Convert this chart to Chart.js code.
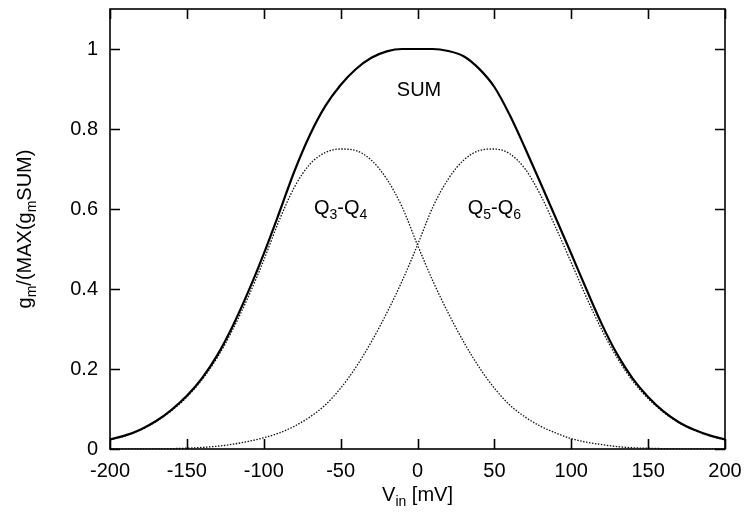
<!DOCTYPE html>
<html lang="en">
<head>
    <meta charset="UTF-8">
    <title>gm vs Vin</title>
    <script src="https://cdn.jsdelivr.net/npm/chart.js@4.4.1/dist/chart.umd.min.js"></script>
    <style>
        body { margin: 0; background: #fff; }
        canvas { display: block; }
    </style>
</head>
<body>
    <canvas id="gmChart" width="745" height="519"></canvas>

    <script>
        // input voltage, mV
        const vin = [-200, -190, -180, -170, -160, -150, -140, -130, -120, -110,
                     -100, -90, -80, -70, -60, -50, -40, -30, -20, -10,
                     0, 10, 20, 30, 40, 50, 60, 70, 80, 90,
                     100, 110, 120, 130, 140, 150, 160, 170, 180, 190, 200];

        // normalised transconductance of the combined stage
        const sumGm = [0.024, 0.034, 0.049, 0.070, 0.098, 0.133, 0.178, 0.236, 0.309, 0.394,
                       0.488, 0.590, 0.695, 0.785, 0.857, 0.910, 0.950, 0.978, 0.994, 1.000,
                       1.000, 1.000, 0.995, 0.982, 0.951, 0.905, 0.835, 0.752, 0.665, 0.577,
                       0.488, 0.398, 0.311, 0.236, 0.176, 0.130, 0.094, 0.067, 0.048, 0.034, 0.024];

        // pair Q3-Q4
        const q34Gm = [0.023, 0.033, 0.048, 0.069, 0.096, 0.130, 0.174, 0.230, 0.300, 0.381,
                       0.472, 0.571, 0.655, 0.712, 0.741, 0.750, 0.746, 0.722, 0.675, 0.605,
                       0.510, 0.420, 0.340, 0.268, 0.205, 0.152, 0.110, 0.080, 0.057, 0.040,
                       0.026, 0.017, 0.011, 0.006, 0.003, 0.002, 0.001, 0.000, 0.000, 0.000, 0.000];

        // pair Q5-Q6
        const q56Gm = [0.000, 0.000, 0.000, 0.000, 0.001, 0.002, 0.004, 0.007, 0.012, 0.019,
                       0.028, 0.040, 0.057, 0.080, 0.110, 0.152, 0.205, 0.268, 0.340, 0.420,
                       0.510, 0.605, 0.675, 0.722, 0.746, 0.750, 0.738, 0.700, 0.635, 0.553,
                       0.466, 0.378, 0.297, 0.227, 0.170, 0.126, 0.092, 0.066, 0.047, 0.033, 0.023];

        const xTicks = [-200, -150, -100, -50, 0, 50, 100, 150, 200];
        const yTicks = [0, 0.2, 0.4, 0.6, 0.8, 1];

        const FONT = "'Liberation Sans', Arial, Helvetica, sans-serif";
        const SIZE = 20;
        const SUB = 14;

        function pts(ys) {
            return vin.map((v, i) => ({ x: v, y: ys[i] }));
        }

        // text with subscripts: parts = [[text, isSub], ...]
        function richWidth(ctx, parts) {
            let w = 0;
            parts.forEach(([t, sub]) => {
                ctx.font = (sub ? SUB : SIZE) + 'px ' + FONT;
                w += ctx.measureText(t).width;
            });
            return w;
        }
        function drawRich(ctx, parts, cx, cy) {
            const w = richWidth(ctx, parts);
            let x = cx - w / 2;
            const base = cy + SIZE * 0.36;
            ctx.textAlign = 'left';
            ctx.textBaseline = 'alphabetic';
            parts.forEach(([t, sub]) => {
                ctx.font = (sub ? SUB : SIZE) + 'px ' + FONT;
                ctx.fillText(t, x, sub ? base + 5 : base);
                x += ctx.measureText(t).width;
            });
        }

        // no extra room for tick labels; the plot box is set by afterFit
        function noPadding(s) {
            s.paddingTop = 0;
            s.paddingBottom = 0;
            s.paddingLeft = 0;
            s.paddingRight = 0;
        }

        const framePlugin = {
            id: 'framePlugin',
            afterDatasetsDraw(chart) {
                const { ctx, chartArea: a, scales: { x, y } } = chart;
                ctx.save();
                ctx.strokeStyle = '#000';
                ctx.lineWidth = 1.6;
                ctx.strokeRect(a.left, a.top, a.right - a.left, a.bottom - a.top);

                // gnuplot-style inward ticks, mirrored
                ctx.beginPath();
                xTicks.forEach(v => {
                    const px = Math.round(x.getPixelForValue(v)) + 0.5;
                    ctx.moveTo(px, a.bottom); ctx.lineTo(px, a.bottom - 10);
                    ctx.moveTo(px, a.top); ctx.lineTo(px, a.top + 10);
                });
                yTicks.forEach(v => {
                    const py = Math.round(y.getPixelForValue(v)) + 0.5;
                    ctx.moveTo(a.left, py); ctx.lineTo(a.left + 10, py);
                    ctx.moveTo(a.right, py); ctx.lineTo(a.right - 10, py);
                });
                ctx.stroke();

                ctx.fillStyle = '#000';
                // curve labels
                drawRich(ctx, [['SUM', false]], x.getPixelForValue(1), y.getPixelForValue(0.9));
                drawRich(ctx, [['Q', false], ['3', true], ['-Q', false], ['4', true]],
                         x.getPixelForValue(-50), y.getPixelForValue(0.605));
                drawRich(ctx, [['Q', false], ['5', true], ['-Q', false], ['6', true]],
                         x.getPixelForValue(50), y.getPixelForValue(0.605));

                // axis titles
                drawRich(ctx, [['V', false], ['in', true], [' [mV]', false]],
                         (a.left + a.right) / 2, 494);
                ctx.save();
                ctx.translate(24, (a.top + a.bottom) / 2);
                ctx.rotate(-Math.PI / 2);
                drawRich(ctx, [['g', false], ['m', true], ['/(MAX(g', false], ['m', true], ['SUM)', false]], 0, 0);
                ctx.restore();
                ctx.restore();
            }
        };

        const ctx = document.getElementById('gmChart').getContext('2d');
        const gmChart = new Chart(ctx, {
            type: 'line',
            data: {
                datasets: [
                    {
                        label: 'SUM',
                        data: pts(sumGm),
                        borderColor: '#000',
                        borderWidth: 2.2,
                        pointRadius: 0,
                        cubicInterpolationMode: 'monotone'
                    },
                    {
                        label: 'Q3-Q4',
                        data: pts(q34Gm),
                        borderColor: '#111',
                        borderWidth: 1.3,
                        borderDash: [1.5, 1.5],
                        pointRadius: 0,
                        cubicInterpolationMode: 'monotone'
                    },
                    {
                        label: 'Q5-Q6',
                        data: pts(q56Gm),
                        borderColor: '#111',
                        borderWidth: 1.3,
                        borderDash: [1.5, 1.5],
                        pointRadius: 0,
                        cubicInterpolationMode: 'monotone'
                    }
                ]
            },
            options: {
                responsive: false,
                animation: false,
                devicePixelRatio: 1,
                layout: { padding: { left: 0, right: 20, top: 9, bottom: 0 } },
                plugins: { legend: { display: false }, tooltip: { enabled: false } },
                scales: {
                    x: {
                        type: 'linear',
                        min: -200,
                        max: 200,
                        afterBuildTicks: s => { s.ticks = xTicks.map(v => ({ value: v })); },
                        afterFit: s => { s.height = 70; noPadding(s); },
                        grid: { display: false, drawTicks: false },
                        border: { display: false },
                        ticks: { padding: 10, color: '#000', maxRotation: 0, autoSkip: false,
                                 font: { size: SIZE, family: FONT } }
                    },
                    y: {
                        min: 0,
                        max: 1.1,
                        afterBuildTicks: s => { s.ticks = yTicks.map(v => ({ value: v })); },
                        afterFit: s => { s.width = 110; noPadding(s); },
                        grid: { display: false, drawTicks: false },
                        border: { display: false },
                        ticks: { padding: 12, color: '#000', autoSkip: false,
                                 font: { size: SIZE, family: FONT },
                                 callback: v => String(v) }
                    }
                }
            },
            plugins: [framePlugin]
        });
    </script>
</body>
</html>
